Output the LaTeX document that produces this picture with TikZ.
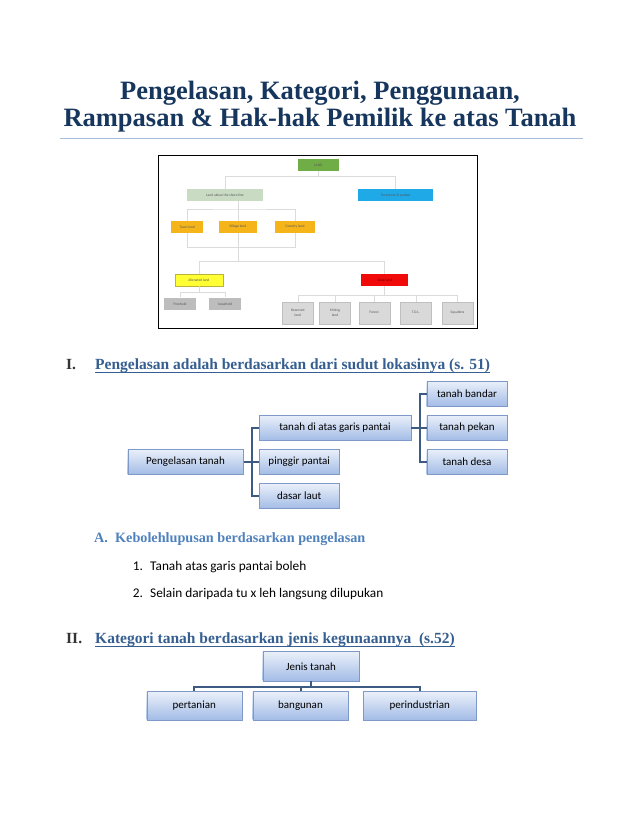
\documentclass[tikz,border=0pt]{standalone}
\usepackage{fontspec}
\setmainfont{Carlito}
\newfontfamily\headfont{Liberation Serif}
\usetikzlibrary{shadows}

\definecolor{titleblue}{HTML}{17365D}
\definecolor{headblue}{HTML}{365F91}
\definecolor{subblue}{HTML}{4F81BD}
\definecolor{rulecol}{HTML}{A7BFDC}
\definecolor{boxtop}{HTML}{EAF0FA}
\definecolor{boxbot}{HTML}{A3BCE6}
\definecolor{boxedge}{HTML}{7E99C8}
\definecolor{connblue}{HTML}{3C5A82}
\definecolor{landgreen}{HTML}{70AD47}
\definecolor{shoregray}{HTML}{C9DCC3}
\definecolor{seablue}{HTML}{1FA9E6}
\definecolor{townorange}{HTML}{F4B41A}
\definecolor{alienyellow}{HTML}{FFFF33}
\definecolor{statered}{HTML}{F00A0A}
\definecolor{lotgray}{HTML}{BDBDBD}

\begin{document}
\begin{tikzpicture}[x=1pt,y=-1pt,
    sbox/.style={draw=boxedge, top color=boxtop, bottom color=boxbot, inner sep=0pt,
      font=\fontsize{11}{13}\selectfont,
      drop shadow={shadow xshift=0.8pt, shadow yshift=-0.8pt, fill=black!25}},
    conn/.style={draw=connblue, line width=2pt},
    lbox/.style={inner sep=0pt, minimum height=11.7pt, font=\fontsize{3.6}{4.2}\selectfont,
      text=black!65, align=center},
    tline/.style={draw=black!14, line width=0.6pt},
    head/.style={anchor=base west, inner sep=0pt, font=\headfont\bfseries\fontsize{15.5}{18}\selectfont},
    item/.style={anchor=base west, inner sep=0pt, font=\fontsize{13.3}{15}\selectfont}
]
\useasboundingbox[fill=white] (0,0) rectangle (638,826);

% title
\node[anchor=base, inner sep=0pt, font=\headfont\bfseries\fontsize{26.5}{30}\selectfont, text=titleblue] (title1) at (320,99.5) {Pengelasan, Kategori, Penggunaan,};
\node[anchor=base, inner sep=0pt, font=\headfont\bfseries\fontsize{26.5}{30}\selectfont, text=titleblue] (title2) at (320,126.5) {Rampasan \& Hak-hak Pemilik ke atas Tanah};
\draw[rulecol, line width=1pt] (60,139) -- (583,139);

% picture of the land tree
\draw[black, line width=0.8pt] (158,155) rectangle (477,328);
\node[lbox, fill=landgreen, minimum width=41.3pt, minimum height=11.4pt] (land) at (318.3,165) {LAND};
\node[lbox, fill=shoregray, minimum width=76.6pt] (above) at (225,194.8) {Land above the shore line};
\node[lbox, fill=seablue, minimum width=75pt] (fore) at (395.7,194.8) {Foreshore \& seabed};
\foreach \nm/\xx/\ww/\txt in {town/187.2/32.3/Town land, village/237.8/37.7/Village land, country/295/40/Country land} {
  \node[lbox, fill=townorange, minimum width=\ww pt] (\nm) at (\xx,226.8) {\txt};
}
\node[lbox, fill=alienyellow, draw=yellow!70!black, line width=0.3pt, minimum width=47.7pt] (alien) at (198.8,280.2) {Alienated land};
\node[lbox, fill=statered, minimum width=47.3pt, text=red!40!black] (state) at (384.7,280.2) {State land};
\node[lbox, fill=lotgray, minimum width=31.4pt, minimum height=12.3pt] (free) at (180,303.8) {Freehold};
\node[lbox, fill=lotgray, minimum width=31.7pt, minimum height=12.3pt] (lease) at (225.2,303.8) {leasehold};
\foreach \nm/\xx/\txt in {reserved/297.8/Reserved\\land, mining/335/Mining\\land, forest/374.2/Forest, tol/415.8/T.O.L., squat/457.5/Squatters} {
  \node[lbox, fill=black!15, draw=black!25, line width=0.3pt, minimum width=31pt, minimum height=22.3pt] (\nm) at (\xx,312.8) {\txt};
}

\draw[tline] (land.south) -- ++(0,5) coordinate (c1) -| (above.north);
\draw[tline] (c1) -| (fore.north);
\coordinate (c3) at (237.8,209);
\coordinate (b3) at (237.8,247.3);
\draw[tline] (above.south -| village.north) -- (c3) -- (village.north);
\draw[tline] (town.north) |- (c3) -| (country.north);
\draw[tline] (town.south) |- (b3) -| (country.south);
\draw[tline] (village.south) -- (b3) -- ++(0,14.4) coordinate (c4);
\draw[tline] (alien.north) |- (c4) -| (state.north);
\draw[tline] (alien.south) -- ++(0,5.7) coordinate (c5);
\draw[tline] (free.north) |- (c5) -| (lease.north);
\draw[tline] (state.south) -- ++(0,9) coordinate (c6);
\draw[tline] (reserved.north) |- (c6) -| (squat.north);
\foreach \nm in {mining, forest, tol} {
  \draw[tline] (\nm.north) -- (\nm.north |- c6);
}

% section I
\node[head, text=black!80] (num1) at (66,369.5) {I.};
\node[head, text=headblue] (sec1) at (95,369.5) {Pengelasan adalah berdasarkan dari sudut lokasinya (s. 51)};
\draw[headblue, line width=0.8pt] ([yshift=-3pt]sec1.base west) -- ([yshift=-3pt]sec1.base east);

\node[sbox, minimum width=115.6pt, minimum height=25pt] (pgl) at (185.5,461.8) {Pengelasan tanah};
\node[sbox, minimum width=152pt, minimum height=25pt] (atas) at (335,427.7) {tanah di atas garis pantai};
\node[sbox, minimum width=80.3pt, minimum height=25pt] (pinggir) at (299.2,461.8) {pinggir pantai};
\node[sbox, minimum width=80.3pt, minimum height=25pt] (dasar) at (299.2,496) {dasar laut};
\node[sbox, minimum width=80.6pt, minimum height=25pt] (bandar) at (467,393.5) {tanah bandar};
\node[sbox, minimum width=80.6pt, minimum height=25pt] (pekan) at (467,427.7) {tanah pekan};
\node[sbox, minimum width=80.6pt, minimum height=25pt] (desa) at (467,461.8) {tanah desa};

\draw[conn] (pgl.east) -- ++(8.4,0) coordinate (j1);
\foreach \nm in {atas, pinggir, dasar} {
  \draw[conn] (j1) |- (\nm.west);
}
\draw[conn] (atas.east) -- ++(8.3,0) coordinate (j2);
\foreach \nm in {bandar, pekan, desa} {
  \draw[conn] (j2) |- (\nm.west);
}

% sub-section A
\node[head, text=subblue, font=\headfont\bfseries\fontsize{14.2}{16}\selectfont] (numA) at (94,542.5) {A.};
\node[head, text=subblue, font=\headfont\bfseries\fontsize{14.2}{16}\selectfont] (secA) at (115,542.5) {Kebolehlupusan berdasarkan pengelasan};
\node[item] (n1) at (132.7,570) {1.};
\node[item] (it1) at (150,570) {Tanah atas garis pantai boleh};
\node[item] (n2) at (132.7,597) {2.};
\node[item] (it2) at (150,597) {Selain daripada tu x leh langsung dilupukan};

% section II
\node[head, text=black!80] (num2) at (66,643.5) {II.};
\node[head, text=headblue] (sec2) at (95,643.5) {Kategori tanah berdasarkan jenis kegunaannya\ \ (s.52)};
\draw[headblue, line width=0.8pt] ([yshift=-3pt]sec2.base west) -- ([yshift=-3pt]sec2.base east);

\node[sbox, minimum width=96.6pt, minimum height=29.3pt] (jenis) at (311,666.3) {Jenis tanah};
\node[sbox, minimum width=95pt, minimum height=28.3pt] (pert) at (194.2,705.8) {pertanian};
\node[sbox, minimum width=95.6pt, minimum height=28.3pt] (bang) at (300.5,705.8) {bangunan};
\node[sbox, minimum width=112.7pt, minimum height=28.3pt] (perind) at (419.7,705.8) {perindustrian};

\draw[conn] (jenis.south) -- ++(0,5.7) coordinate (j3);
\foreach \nm in {pert, bang, perind} {
  \draw[conn] (j3) -| (\nm.north);
}
\end{tikzpicture}
\end{document}
